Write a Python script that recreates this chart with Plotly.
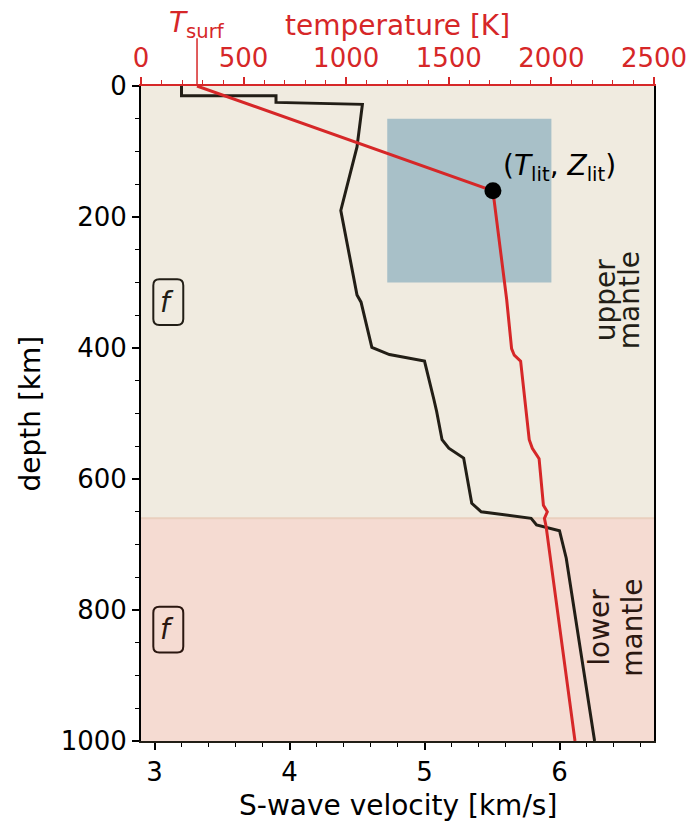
import plotly.graph_objects as go

# --- data -------------------------------------------------------------
# S-wave velocity profile (km/s) versus depth (km)
vs_depth = [0, 15, 15, 25, 28, 93, 190, 319, 330, 399, 410, 420, 479, 497,
            540, 553, 568, 637, 650, 660, 670, 679, 721, 1000]
vs_value = [3.2, 3.2, 3.9, 3.9, 4.54, 4.50, 4.38, 4.50, 4.53, 4.61, 4.74,
            5.00, 5.07, 5.09, 5.13, 5.18, 5.29, 5.35, 5.42, 5.79, 5.83,
            6.00, 6.05, 6.26]

# temperature profile (K) versus depth (km)
T_SURF = 273
T_LIT, Z_LIT = 1715, 160
temp_depth = [0, Z_LIT, 326, 401, 411, 420, 540, 553, 569, 640, 650, 660, 672, 1000]
temp_value = [T_SURF, T_LIT, 1782, 1806, 1819, 1850, 1892, 1907, 1940, 1961,
              1980, 1966, 1974, 2115]

# prior box for (T_lit, Z_lit)
box_T = [1200, 2000]
box_Z = [50, 300]

# depth of the upper/lower mantle boundary
Z_660 = 660

vs_ticks = [3, 4, 5, 6]
temp_ticks = [0, 500, 1000, 1500, 2000, 2500]
depth_ticks = [0, 200, 400, 600, 800, 1000]

# --- style ------------------------------------------------------------
FONT = "DejaVu Sans"
RED = "#D62728"
DARK = "#221E16"
BROWN = "#2B1710"
UPPER_BG = "#F0EBE0"
LOWER_BG = "#F5DBD2"
BOX_BG = "#A8C0C8"
TICK_FS = 26
LABEL_FS = 28

fig = go.Figure()

fig.add_trace(go.Scatter(
    x=vs_value, y=vs_depth, mode="lines", xaxis="x", yaxis="y",
    line=dict(color=DARK, width=3), hoverinfo="skip", showlegend=False))

fig.add_trace(go.Scatter(
    x=temp_value, y=temp_depth, mode="lines", xaxis="x2", yaxis="y",
    line=dict(color=RED, width=3), hoverinfo="skip", showlegend=False))

fig.add_trace(go.Scatter(
    x=[T_LIT], y=[Z_LIT], mode="markers", xaxis="x2", yaxis="y",
    marker=dict(color="black", size=17), hoverinfo="skip", showlegend=False))

shapes = [
    # mantle layers
    dict(type="rect", xref="paper", yref="y", x0=0, x1=1, y0=0, y1=Z_660,
         fillcolor=UPPER_BG, line=dict(width=0), layer="below"),
    dict(type="rect", xref="paper", yref="y", x0=0, x1=1, y0=Z_660, y1=1000,
         fillcolor=LOWER_BG, line=dict(width=0), layer="below"),
    dict(type="line", xref="paper", yref="y", x0=0, x1=1, y0=Z_660, y1=Z_660,
         line=dict(color="#EACFBE", width=2), layer="below"),
    # prior range of the lithosphere base
    dict(type="rect", xref="x2", yref="y", x0=box_T[0], x1=box_T[1],
         y0=box_Z[0], y1=box_Z[1], fillcolor=BOX_BG, line=dict(width=0),
         layer="below"),
    # surface temperature marker on the top axis
    dict(type="line", xref="x2", yref="paper", x0=T_SURF, x1=T_SURF,
         y0=1, y1=1.073, line=dict(color=RED, width=1.5)),
]


def rounded_box(xc, zc, color):
    # rounded frame in paper-x / depth-y coordinates
    hw, hh = 0.0292, 34.8
    rx, rz = 0.0117, 9.2
    x0, x1 = xc - hw, xc + hw
    z0, z1 = zc - hh, zc + hh
    path = (f"M {x0 + rx},{z0} L {x1 - rx},{z0} Q {x1},{z0} {x1},{z0 + rz} "
            f"L {x1},{z1 - rz} Q {x1},{z1} {x1 - rx},{z1} "
            f"L {x0 + rx},{z1} Q {x0},{z1} {x0},{z1 - rz} "
            f"L {x0},{z0 + rz} Q {x0},{z0} {x0 + rx},{z0} Z")
    return dict(type="path", xref="paper", yref="y", path=path,
                line=dict(color=color, width=2))


BOX_X = 0.0532
shapes.append(rounded_box(BOX_X, 330, DARK))
shapes.append(rounded_box(BOX_X, 830, BROWN))


def side_word(text, xpx, z, color):
    # vertical word placed by pixel column inside the plot area
    return dict(text=text, xref="paper", yref="y", x=xpx / 513.0, y=z,
                textangle=-90, xanchor="center", yanchor="middle",
                showarrow=False,
                font=dict(family=FONT, size=LABEL_FS, color=color))


annotations = [
    dict(text="<i>f</i>", xref="paper", yref="y", x=BOX_X - 0.002, y=330,
         xanchor="center", yanchor="middle", showarrow=False,
         font=dict(family=FONT, size=LABEL_FS, color=DARK)),
    dict(text="<i>f</i>", xref="paper", yref="y", x=BOX_X - 0.002, y=830,
         xanchor="center", yanchor="middle", showarrow=False,
         font=dict(family=FONT, size=LABEL_FS, color=BROWN)),
    side_word("upper", 464, 327, DARK),
    side_word("mantle", 488, 327, DARK),
    side_word("lower", 459, 827, BROWN),
    side_word("mantle", 492, 827, BROWN),
    dict(text="(<i>T</i><sub>lit</sub>, <i>Z</i><sub>lit</sub>)",
         xref="x2", yref="y", x=1752, y=124, xanchor="left", yanchor="middle",
         showarrow=False, font=dict(family=FONT, size=LABEL_FS, color="black")),
    dict(text="<i>T</i><sub>surf</sub>", xref="x2", yref="paper",
         x=T_SURF, y=1.094, xanchor="center", yanchor="middle",
         showarrow=False, font=dict(family=FONT, size=LABEL_FS, color=RED)),
    # axis titles
    dict(text="temperature [K]", xref="paper", yref="paper", x=0.5,
         y=1 + 61 / 655, xanchor="center", yanchor="middle", showarrow=False,
         font=dict(family=FONT, size=LABEL_FS, color=RED)),
    dict(text="S-wave velocity [km/s]", xref="paper", yref="paper", x=0.5,
         y=-64 / 655, xanchor="center", yanchor="middle", showarrow=False,
         font=dict(family=FONT, size=LABEL_FS, color="black")),
    dict(text="depth [km]", xref="paper", yref="paper", x=-111 / 513,
         y=0.5, xanchor="center", yanchor="middle", textangle=-90,
         showarrow=False, font=dict(family=FONT, size=LABEL_FS, color="black")),
]

fig.update_layout(
    width=692, height=823,
    margin=dict(l=141, r=38, t=86, b=82, autoexpand=False),
    paper_bgcolor="white", plot_bgcolor="white",
    font=dict(family=FONT, size=TICK_FS, color="black"),
    shapes=shapes, annotations=annotations, showlegend=False,
    xaxis=dict(
        range=[2.9, 6.7], tickvals=vs_ticks, ticks="outside", ticklen=7,
        tickwidth=1.5, tickcolor="black", showline=True, linecolor=DARK,
        linewidth=2, showgrid=False, zeroline=False, automargin=False,
        tickfont=dict(size=TICK_FS, color="black"),
        minor=dict(dtick=0.2, tick0=0, ticks="outside", ticklen=4,
                   tickwidth=1, tickcolor="black", showgrid=False),
    ),
    xaxis2=dict(
        range=[0, 2500], tickvals=temp_ticks, overlaying="x", side="top",
        anchor="y", ticks="outside", ticklen=7, tickwidth=1.5, tickcolor=RED,
        showline=True, linecolor=RED, linewidth=2, showgrid=False,
        zeroline=False, automargin=False,
        tickfont=dict(size=TICK_FS, color=RED),
        minor=dict(dtick=100, tick0=0, ticks="outside", ticklen=4,
                   tickwidth=1, tickcolor=RED, showgrid=False),
    ),
    yaxis=dict(
        range=[1000, 0], tickvals=depth_ticks, ticks="outside", ticklen=7,
        tickwidth=1.5, tickcolor="black", showline=True, mirror=True,
        linecolor="black", linewidth=2, showgrid=False, zeroline=False,
        automargin=False, tickfont=dict(size=TICK_FS, color="black"),
        minor=dict(dtick=50, tick0=0, ticks="outside", ticklen=4,
                   tickwidth=1, tickcolor="black", showgrid=False),
    ),
)

fig.write_html("out.html")
